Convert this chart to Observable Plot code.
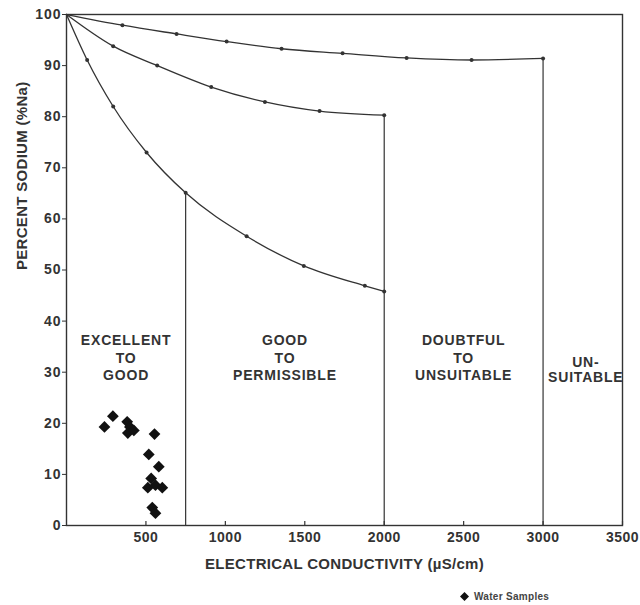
<!DOCTYPE html>
<html>
<head>
<meta charset="utf-8">
<script src="https://cdn.jsdelivr.net/npm/d3@7"></script>
<script src="https://cdn.jsdelivr.net/npm/@observablehq/plot@0.6"></script>
<style>
  body { margin: 0; background: #fff; font-family: "Liberation Sans", Arial, sans-serif; }
  #chart svg { display: block; }
  #chart g[aria-label="y-axis tick label"] text { letter-spacing: 1px; }
  #chart g[aria-label="x-axis tick label"] text { letter-spacing: 0.5px; }
  #chart g[aria-description="class names"] text { letter-spacing: 0.8px; }
  #chart g[aria-description="axis title"] text { letter-spacing: 0.3px; }
  .legend { position: relative; height: 22px; font: bold 10px "Liberation Sans", Arial, sans-serif; color: #444; }
  .legend .key { position: absolute; left: 460px; top: 8px; display: flex; align-items: center; gap: 5px; letter-spacing: 0.3px; }
</style>
</head>
<body>
<div id="chart"></div>
<div class="legend"><span class="key"><svg width="9" height="9" viewBox="0 0 10 10"><polygon points="5,0 10,5 5,10 0,5" fill="#111"/></svg>Water Samples</span></div>
<script>
// Wilcox-type diagram: percent sodium against electrical conductivity

// Axis ticks
const ecTicks = [500, 1000, 1500, 2000, 2500, 3000, 3500];
const naTicks = [0, 10, 20, 30, 40, 50, 60, 70, 80, 90, 100];
const ecDomain = [0, 3500];
const naDomain = [0, 100];

// Class boundary curves (EC in µS/cm, %Na)
const upperEC = [0, 352, 693, 1008, 1354, 1738, 2141, 2550, 3000];
const upperNa = [100, 97.9, 96.2, 94.7, 93.3, 92.4, 91.5, 91.1, 91.4];

const middleEC = [0, 294, 571, 911, 1249, 1593, 2000];
const middleNa = [100, 93.8, 90.0, 85.8, 82.9, 81.1, 80.3];

const lowerEC = [0, 130, 294, 504, 750, 1134, 1494, 1878, 2000];
const lowerNa = [100, 91.1, 82.0, 73.0, 65.1, 56.6, 50.8, 46.9, 45.8];

// Class limits along the EC axis and class names
const classLimits = [0, 750, 2000, 3000, 3500];
const classNames = [
  "EXCELLENT\nTO\nGOOD",
  "GOOD\nTO\nPERMISSIBLE",
  "DOUBTFUL\nTO\nUNSUITABLE",
  "UN-\nSUITABLE"
];

// Water samples
const sampleEC = [292, 239, 382, 399, 386, 424, 554, 518, 581, 533, 512, 560, 603, 540, 560];
const sampleNa = [21.4, 19.3, 20.3, 19.3, 18.1, 18.6, 17.9, 13.9, 11.5, 9.2, 7.4, 7.9, 7.4, 3.5, 2.4];

const xTitle = "ELECTRICAL CONDUCTIVITY (µS/cm)";
const yTitle = "PERCENT SODIUM (%Na)";

const toPoints = (xs, ys) => xs.map((x, i) => ({x, y: ys[i]}));
const upper = toPoints(upperEC, upperNa);
const middle = toPoints(middleEC, middleNa);
const lower = toPoints(lowerEC, lowerNa);
const samples = toPoints(sampleEC, sampleNa);

// Vertical class lines rise from the axis to the curve that ends at each limit
const limitLines = [
  {x: classLimits[1], top: lowerNa[lowerEC.indexOf(classLimits[1])]},
  {x: classLimits[2], top: middleNa[middleEC.indexOf(classLimits[2])]},
  {x: classLimits[3], top: upperNa[upperEC.indexOf(classLimits[3])]}
];

const classLabels = classNames.map((name, i) => ({
  x: (classLimits[i] + classLimits[i + 1]) / 2,
  name,
  lines: name.split("\n").length
}));

const ink = "#333";
const curveStyle = {x: "x", y: "y", curve: "monotone-x", stroke: ink, strokeWidth: 1.3};
const nodeStyle = {x: "x", y: "y", r: 2, fill: ink};
const classStyle = {x: "x", text: "name", fontSize: 14, fontWeight: "bold", fill: ink, ariaDescription: "class names"};
const titleStyle = {fontSize: 15, fontWeight: "bold", fill: ink, ariaDescription: "axis title"};

const chart = Plot.plot({
  width: 640,
  height: 583,
  marginLeft: 66,
  marginRight: 18,
  marginTop: 14,
  marginBottom: 58,
  style: {fontFamily: "Liberation Sans, Arial, sans-serif", color: ink, background: "transparent"},
  x: {domain: ecDomain},
  y: {domain: naDomain},
  marks: [
    Plot.frame({stroke: ink, strokeWidth: 1.4}),
    Plot.axisY({ticks: naTicks, tickFormat: d => String(d), tickSize: 4, tickPadding: 1, fontSize: 14, fontWeight: "bold", label: null, stroke: ink}),
    Plot.axisX({ticks: ecTicks, tickFormat: d => String(d), tickSize: 0, tickPadding: 7, fontSize: 14, fontWeight: "bold", label: null}),
    Plot.ruleX(ecTicks, {x: d => d, y1: naDomain[0], y2: naDomain[0], insetBottom: 4, stroke: ink, strokeWidth: 1.2}),
    Plot.ruleX(limitLines, {x: "x", y1: naDomain[0], y2: "top", stroke: ink, strokeWidth: 1.2}),
    Plot.line(upper, curveStyle),
    Plot.line(middle, curveStyle),
    Plot.line(lower, curveStyle),
    Plot.dot(upper.slice(1), nodeStyle),
    Plot.dot(middle.slice(1), nodeStyle),
    Plot.dot(lower.slice(1), nodeStyle),
    Plot.text(classLabels.filter(d => d.lines === 3), {...classStyle, y: 32.9, lineHeight: 1.25}),
    Plot.text(classLabels.filter(d => d.lines === 2), {...classStyle, y: 30.5, lineHeight: 1.1, dx: 3}),
    Plot.dot(samples, {x: "x", y: "y", symbol: "diamond2", r: 5.3, fill: "#111"}),
    Plot.text([yTitle], {...titleStyle, frameAnchor: "left", dx: -44, rotate: -90}),
    Plot.text([xTitle], {...titleStyle, frameAnchor: "bottom", dy: 43})
  ]
});

document.getElementById("chart").appendChild(chart);
</script>
</body>
</html>
